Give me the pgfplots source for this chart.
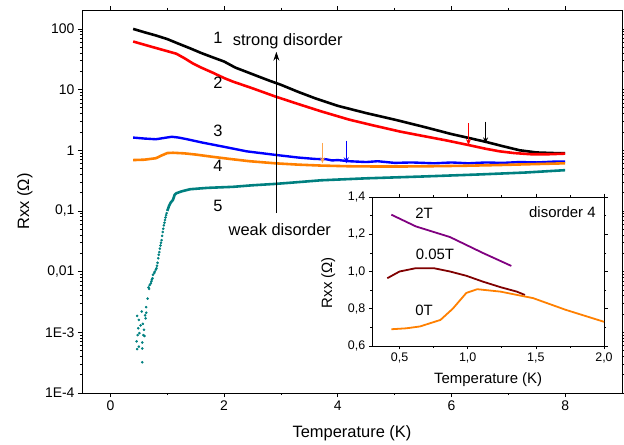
\documentclass[border=0pt]{standalone}
\usepackage{fontspec}
\setmainfont{Liberation Sans}
\usepackage{pgfplots}
\pgfplotsset{compat=1.18}
\usetikzlibrary{arrows.meta}
\definecolor{cBlue}{RGB}{0,0,255}
\definecolor{cOrange}{RGB}{255,128,0}
\definecolor{cTeal}{RGB}{0,128,128}
\definecolor{cPurple}{RGB}{128,0,128}
\definecolor{cDarkRed}{RGB}{128,0,0}
\tikzset{
  bigtxt/.style={font=\fontsize{16.5}{19}\selectfont, inner sep=0pt},
  smalltxt/.style={font=\fontsize{15}{17}\selectfont, inner sep=0pt},
}

\begin{document}
\begin{tikzpicture}
\useasboundingbox (-82bp,-52bp) rectangle (542bp,393bp);
\begin{axis}[
    at={(0,0)}, anchor=south west,
    scale only axis, width=540bp, height=383bp,
    xmin=-0.5, xmax=9,
    ymode=log, ymin=1e-4, ymax=205,
    xtick={0,2,4,6,8}, minor x tick num=1,
    ytick={1e-4,1e-3,0.01,0.1,1,10,100},
    yticklabels={1E-4,1E-3,{0,01},{0,1},1,10,100},
    tick align=outside,
    major tick length=4bp, minor tick length=2.2bp,
    every tick/.style={black, line width=0.8pt},
    axis line style={line width=0.9pt},
    /pgf/number format/assume math mode=true,
    tick label style={font=\fontsize{14}{16}\selectfont},
    label style={font=\fontsize{16.5}{19}\selectfont},
    xlabel={Temperature (K)},
    ylabel={Rxx (Ω)},
    xlabel style={at={(axis description cs:0.5,-0.104)}, anchor=center},
    ylabel style={at={(axis description cs:-0.106,0.5)}, anchor=center},
  ]
  % 1
  \addplot[black, line width=2.6pt] coordinates {
    (0.4,100)(0.6,88)(0.8,78)(1.0,68)(1.2,57)(1.4,48)(1.6,40)(1.8,34)(2.0,29)
    (2.2,23)(2.4,19.5)(2.6,16.5)(2.8,14)(3.0,12)(3.3,9.2)(3.6,7.2)(4.0,5.4)
    (4.5,4.1)(5.0,3.2)(5.5,2.45)(6.0,1.85)(6.3,1.6)(6.6,1.38)(6.9,1.17)
    (7.2,1.0)(7.5,0.92)(7.8,0.9)(8.0,0.9)};
  % 2
  \addplot[red, line width=2.6pt] coordinates {
    (0.4,62)(0.75,50)(1.0,43)(1.16,39)(1.3,33)(1.45,27)(1.6,23)(1.8,19)
    (2.0,15.5)(2.16,13.5)(2.5,10.5)(2.9,7.7)(3.3,5.8)(3.7,4.4)(4.2,3.2)
    (4.6,2.6)(5.1,2.03)(5.5,1.72)(5.9,1.46)(6.3,1.22)(6.6,1.06)(6.85,0.96)
    (7.1,0.9)(7.4,0.86)(7.7,0.86)(8.0,0.88)};
  % 3
  \addplot[cBlue, line width=2.4pt] coordinates {
    (0.4,1.62)(0.6,1.56)(0.8,1.52)(0.95,1.6)(1.08,1.67)(1.2,1.62)(1.35,1.52)
    (1.6,1.35)(1.8,1.24)(2.0,1.14)(2.4,0.96)(2.9,0.84)(3.3,0.76)(3.6,0.72)
    (3.8,0.71)(3.9,0.68)(4.0,0.69)(4.2,0.66)(4.5,0.64)(4.7,0.66)(5.0,0.62)
    (5.3,0.63)(5.7,0.61)(6.0,0.63)(6.3,0.61)(6.6,0.63)(6.9,0.62)(7.2,0.64)
    (7.5,0.63)(7.8,0.65)(8.0,0.65)};
  % 4
  \addplot[cOrange, line width=2.6pt] coordinates {
    (0.4,0.69)(0.6,0.70)(0.8,0.74)(0.9,0.82)(1.0,0.9)(1.1,0.91)(1.3,0.89)
    (1.5,0.85)(1.8,0.78)(2.1,0.72)(2.45,0.66)(2.9,0.61)(3.3,0.58)(3.7,0.56)
    (4.2,0.545)(4.7,0.54)(5.1,0.54)(5.6,0.545)(6.2,0.555)(6.8,0.57)
    (7.4,0.59)(8.0,0.61)};
  % 5
  \addplot[cTeal, line width=2.6pt] coordinates {
    (1.0,0.10)(1.03,0.12)(1.06,0.137)(1.1,0.152)(1.13,0.185)(1.16,0.196)
    (1.25,0.21)(1.4,0.228)(1.7,0.24)(2.16,0.25)(2.5,0.265)(2.92,0.28)
    (3.33,0.30)(3.7,0.32)(4.5,0.345)(5.5,0.37)(6.5,0.40)(7.3,0.43)(8.0,0.47)};
  \addplot[cTeal, only marks, mark=*, mark size=1.1pt] coordinates {
    (0.63,0.0026)(0.655,0.0036)(0.67,0.0055)(0.68,0.0052)(0.69,0.006)
    (0.71,0.0064)(0.72,0.0069)(0.73,0.0074)(0.74,0.0078)(0.75,0.0089)
    (0.77,0.0095)(0.78,0.0100)(0.80,0.0108)(0.81,0.0114)(0.82,0.0125)
    (0.83,0.014)(0.84,0.0166)(0.85,0.019)(0.86,0.021)(0.87,0.024)(0.88,0.027)
    (0.89,0.030)(0.90,0.033)(0.91,0.039)(0.92,0.045)(0.93,0.051)(0.94,0.058)
    (0.95,0.064)(0.96,0.071)(0.97,0.078)(0.98,0.085)(0.99,0.092)
    (0.47,0.00186)(0.55,0.0022)(0.63,0.0021)(0.50,0.0016)(0.57,0.00138)
    (0.49,0.00117)(0.59,0.0011)(0.51,0.00097)(0.60,0.00087)(0.46,0.00071)
    (0.56,0.00068)(0.50,0.00058)(0.47,0.00053)(0.56,0.00054)(0.56,0.00032)
    (0.53,0.0013)(0.58,0.0009)(0.48,0.0009)(0.61,0.0019)(0.62,0.0017)};
  % markers
  \addplot[black, line width=1pt, -{Stealth[length=6bp,width=5bp]}] coordinates {(6.6,2.96)(6.6,1.30)};
  \addplot[red, line width=1pt, -{Stealth[length=6bp,width=5bp]}] coordinates {(6.3,2.78)(6.3,1.22)};
  \addplot[cBlue, line width=1pt, -{Stealth[length=6bp,width=5bp]}] coordinates {(4.15,1.44)(4.15,0.61)};
  \addplot[cOrange!70, line width=1pt, -{Stealth[length=6bp,width=5bp]}] coordinates {(3.73,1.33)(3.73,0.61)};
  \addplot[black, line width=0.8pt, -{Stealth[length=9bp,width=6bp]}] coordinates {(2.92,0.092)(2.92,42)};
  \node[bigtxt] at (axis cs:1.89,71) {1};
  \node[bigtxt] at (axis cs:1.89,12.8) {2};
  \node[bigtxt] at (axis cs:1.89,2.08) {3};
  \node[bigtxt] at (axis cs:1.89,0.55) {4};
  \node[bigtxt] at (axis cs:1.89,0.121) {5};
  \node[bigtxt] at (axis cs:3.12,63) {strong disorder};
  \node[bigtxt] at (axis cs:2.98,0.05) {weak disorder};
\end{axis}

\begin{axis}[
    at={(290.3bp,47bp)}, anchor=south west,
    scale only axis, width=231.7bp, height=149bp,
    axis background/.style={fill=white},
    xmin=0.3, xmax=2.0, ymin=0.6, ymax=1.4,
    xtick={0.5,1.0,1.5,2.0}, xticklabels={{0,5},{1,0},{1,5},{2,0}},
    ytick={0.6,0.8,1.0,1.2,1.4}, yticklabels={{0,6},{0,8},{1,0},{1,2},{1,4}},
    minor tick num=1,
    tick align=outside,
    major tick length=3.5bp, minor tick length=2bp,
    every tick/.style={black, line width=0.7pt},
    axis line style={line width=0.8pt},
    tick label style={font=\fontsize{12.5}{14}\selectfont},
    label style={font=\fontsize{15}{17}\selectfont},
    xlabel={Temperature (K)},
    ylabel={Rxx (Ω)},
    xlabel style={at={(axis description cs:0.5,-0.228)}, anchor=center},
    ylabel style={at={(axis description cs:-0.19,0.426)}, anchor=center},
  ]
  \addplot[cPurple, line width=1.8pt] coordinates {
    (0.44,1.305)(0.62,1.242)(0.87,1.185)(1.11,1.10)(1.32,1.03)};
  \addplot[cDarkRed, line width=1.8pt] coordinates {
    (0.41,0.964)(0.5,1.0)(0.62,1.018)(0.75,1.018)(0.87,1.0)(0.99,0.977)
    (1.11,0.946)(1.24,0.916)(1.36,0.892)(1.42,0.874)};
  \addplot[cOrange, line width=1.8pt] coordinates {
    (0.44,0.69)(0.55,0.695)(0.65,0.705)(0.8,0.74)(0.89,0.80)(0.99,0.885)
    (1.07,0.905)(1.24,0.892)(1.48,0.857)(1.72,0.794)(2.0,0.73)};
  \node[smalltxt] at (axis cs:0.68,1.314) {2T};
  \node[smalltxt] at (axis cs:0.76,1.09) {0.05T};
  \node[smalltxt] at (axis cs:0.68,0.794) {0T};
  \node[smalltxt, anchor=east] at (axis cs:1.94,1.32) {disorder 4};
\end{axis}
\end{tikzpicture}
\end{document}
